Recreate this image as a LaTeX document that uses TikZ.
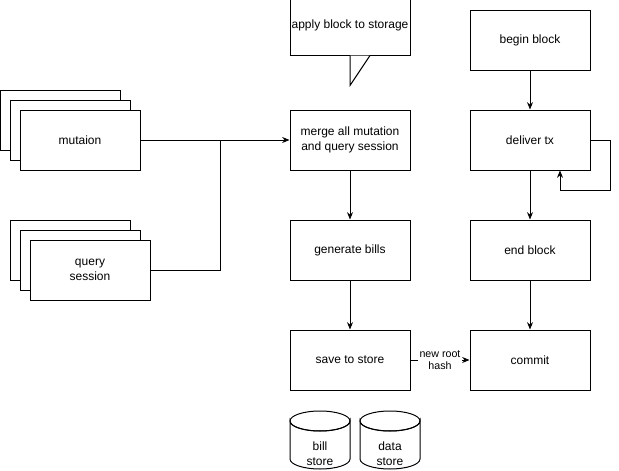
\documentclass[tikz,border=0pt]{standalone}
\usepackage{fontspec}
\setmainfont{Liberation Sans}
\usetikzlibrary{arrows.meta}
\tikzset{
  box/.style={draw,fill=white,minimum width=90pt,minimum height=45pt,inner sep=1pt,align=center,font=\fontsize{9}{11}\selectfont},
  storetxt/.style={inner sep=0pt,align=center,font=\fontsize{9}{11}\selectfont},
  hashlbl/.style={fill=white,inner sep=1pt,align=center,font=\fontsize{8}{9.5}\selectfont},
}
\begin{document}
\begin{tikzpicture}[x=0.75pt,y=-0.75pt,line width=0.75pt,>={Stealth[length=5.5pt,width=4.5pt]}]
\useasboundingbox (0,0) rectangle (619,471);
% inputs
\node[box] (mut3) at (60,120) {};
\node[box] (mut2) at (70,130) {};
\node[box] (mut) at (80,140) {mutaion};
\node[box] (qs3) at (70,250) {};
\node[box] (qs2) at (80,260) {};
\node[box] (qs) at (90,270) {query\\session};
% middle column
\node[box] (apply) at (350,25) {apply block to storage};
\draw[fill=white] (apply.south) -- ++(0,30) -- ++(20,-30);
\node[box] (merge) at (350,140) {merge all mutation\\and query session};
\node[box] (bills) at (350,250) {generate bills};
\node[box] (save) at (350,360) {save to store};
% stores
\foreach \cx in {320,390}{
  \draw[fill=white] (\cx-30,421) -- (\cx-30,459) arc[start angle=180,end angle=0,x radius=30,y radius=10]
    -- (\cx+30,421) arc[start angle=0,end angle=180,x radius=30,y radius=10] -- cycle;
  \draw (\cx,421) ellipse[x radius=30,y radius=10];
}
\node[storetxt] (billdb) at (320,454) {bill\\store};
\node[storetxt] (datadb) at (390,454) {data\\store};
% right column
\node[box] (begin) at (530,40) {begin block};
\node[box] (deliver) at (530,140) {deliver tx};
\node[box] (end) at (530,250) {end block};
\node[box] (commit) at (530,360) {commit};
% connectors
\coordinate (join) at (220,140);
\draw[->] (mut.east) -- (merge.west);
\draw (qs.east) -| (join);
\draw[->] (merge) -- (bills);
\draw[->] (bills) -- (save);
\draw[->] (save) -- node[hashlbl]{new root\\hash} (commit);
\draw[->] (begin) -- (deliver);
\draw[->] (deliver) -- (end);
\draw[->] (end) -- (commit);
\draw[->] (deliver.east) -- ++(20,0) -- ++(0,50) -| ([xshift=22.5pt]deliver.south);
\end{tikzpicture}
\end{document}
